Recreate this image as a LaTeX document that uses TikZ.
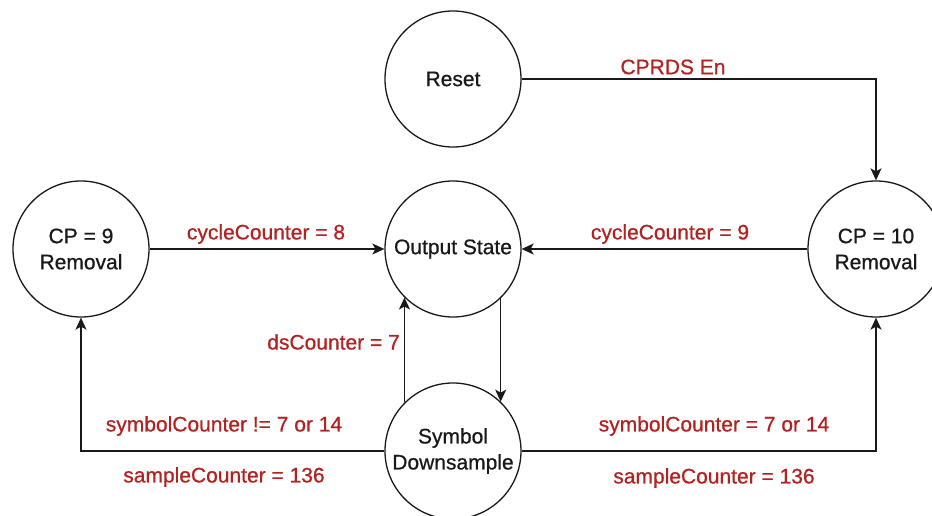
\documentclass[tikz,border=0pt]{standalone}
\usepackage{fontspec}
\setmainfont{Liberation Sans}
\newfontfamily\diagfont{Liberation Sans}[FakeBold=0.7]
\usetikzlibrary{arrows.meta}
\definecolor{edgelabel}{RGB}{178,34,34}
\definecolor{ink}{RGB}{25,25,25}
\begin{document}
\begin{tikzpicture}[x=1pt,y=-1pt,
  state/.style={circle,draw=ink,fill=white,line width=1.3pt,minimum size=136pt,inner sep=0pt,
    align=center,font=\diagfont\fontsize{21}{26}\selectfont,text=ink},
  flow/.style={draw=ink,line width=1.3pt,-{Stealth[length=12pt,width=11pt,inset=3pt]}},
  cond/.style={text=edgelabel,font=\diagfont\fontsize{21}{26}\selectfont,inner sep=0pt}]
\useasboundingbox[fill=white] (0,0) rectangle (932,516);

% states
\node[state] (reset) at (453,79)  {Reset};
\node[state] (cp9)   at (81,249)  {CP = 9\\Removal};
\node[state] (out)   at (453,249) {Output State};
\node[state] (cp10)  at (876,249) {CP = 10\\Removal};
\node[state] (sym)   at (453,451) {Symbol\\Downsample};

% transitions
\draw[flow] (reset.east) -| (cp10.north);
\draw[flow] (cp9.east) -- (out.west);
\draw[flow] (cp10.west) -- (out.east);
\draw[flow] (sym.135) -- (out.-135);
\draw[flow] (out.-46) -- (sym.46);
\draw[flow] (sym.west) -| (cp9.south);
\draw[flow] (sym.east) -| (cp10.south);

% transition conditions
\node[cond] (lreset) at (673,67)  {CPRDS En};
\node[cond] (l8)     at (266,234) {cycleCounter = 8};
\node[cond] (l9)     at (670,234) {cycleCounter = 9};
\node[cond,anchor=east] (lds) at (400,342) {dsCounter = 7};
\node[cond] (lsymne) at (224,426) {symbolCounter != 7 or 14};
\node[cond] (lsamp1) at (224,477) {sampleCounter = 136};
\node[cond] (lsymeq) at (714,426) {symbolCounter = 7 or 14};
\node[cond] (lsamp2) at (714,478) {sampleCounter = 136};
\end{tikzpicture}
\end{document}
